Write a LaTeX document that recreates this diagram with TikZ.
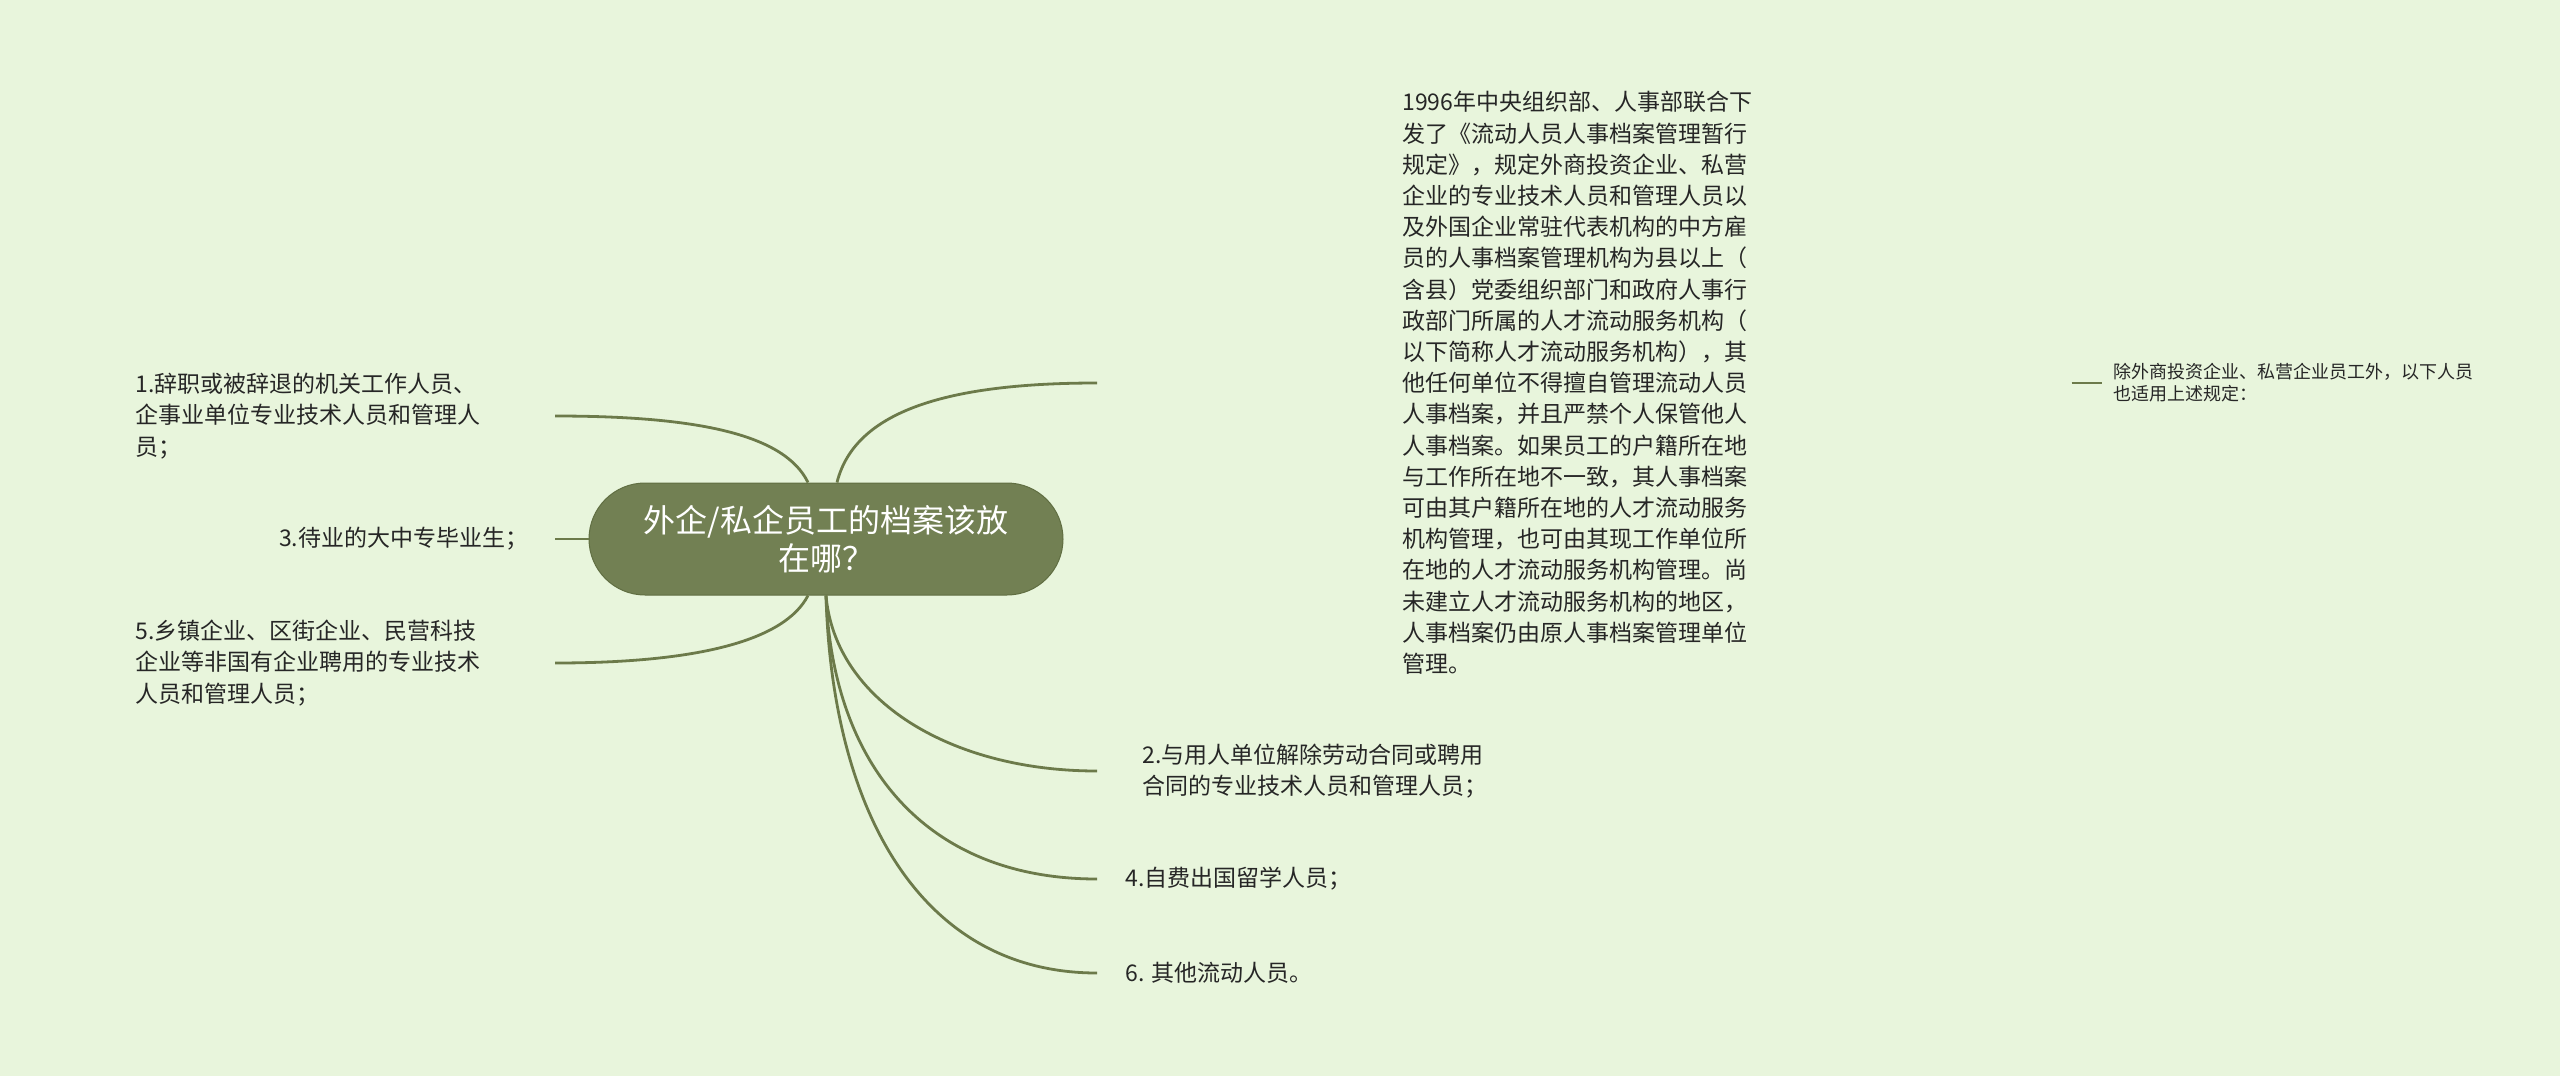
\documentclass[tikz,border=0pt]{standalone}
\usepackage{fontspec}
\newfontfamily\cjk{Noto Sans CJK SC}

\tikzset{every picture/.style={line width=0.75pt}}
\tikzset{
  branch/.style={color={rgb, 255:red, 108; green, 122; blue, 74 }, draw opacity=1, line width=1.4},
  hub/.style={fill={rgb, 255:red, 114; green, 128; blue, 83 }, draw={rgb, 255:red, 96; green, 110; blue, 66 }, line width=0.5, rounded corners=28pt, minimum width=237pt, minimum height=56pt, align=center, text=white, font=\cjk\fontsize{16pt}{19pt}\selectfont},
  leaf/.style={text={rgb, 255:red, 38; green, 38; blue, 38 }, inner ysep=0.75pt, align=left, font=\cjk\fontsize{11.5pt}{15.6pt}\selectfont},
  note/.style={text={rgb, 255:red, 38; green, 38; blue, 38 }, inner ysep=0.75pt, inner xsep=5.5pt, align=left, font=\cjk\fontsize{9pt}{11pt}\selectfont}
}

\begin{document}
\begin{tikzpicture}[x=0.5pt,y=0.5pt,yscale=-1,xscale=1]
\path [use as bounding box, fill={rgb, 255:red, 232; green, 245; blue, 220 }] (0,0) rectangle (2560,1076);

% Text Node
\draw (826,539) node [hub] (hub) {外企/私企员工的档案该放\\在哪？};

% Text Node
\draw (555,416) node [leaf, anchor=east, inner xsep=17pt, text width=192.5pt] (quit) {1.辞职或被辞退的机关工作人员、\\企事业单位专业技术人员和管理人\\员；};
% Text Node
\draw (555,539) node [leaf, anchor=east, inner xsep=13pt] (wait) {3.待业的大中专毕业生；};
% Text Node
\draw (555,663) node [leaf, anchor=east, inner xsep=17pt, text width=192.5pt] (rural) {5.乡镇企业、区街企业、民营科技\\企业等非国有企业聘用的专业技术\\人员和管理人员；};

% Text Node
\draw (1097,383) node [leaf, anchor=west, inner xsep=0pt, text width=182pt, minimum width=486.5pt] (rule) {1996年中央组织部、人事部联合下\\发了《流动人员人事档案管理暂行\\规定》，规定外商投资企业、私营\\企业的专业技术人员和管理人员以\\及外国企业常驻代表机构的中方雇\\员的人事档案管理机构为县以上（\\含县）党委组织部门和政府人事行\\政部门所属的人才流动服务机构（\\以下简称人才流动服务机构），其\\他任何单位不得擅自管理流动人员\\人事档案，并且严禁个人保管他人\\人事档案。如果员工的户籍所在地\\与工作所在地不一致，其人事档案\\可由其户籍所在地的人才流动服务\\机构管理，也可由其现工作单位所\\在地的人才流动服务机构管理。尚\\未建立人才流动服务机构的地区，\\人事档案仍由原人事档案管理单位\\管理。};
% Text Node
\draw (2102,383) node [note, anchor=west] (others) {除外商投资企业、私营企业员工外，以下人员\\也适用上述规定：};

% Text Node
\draw (1097,771) node [leaf, anchor=west, inner xsep=22.5pt] (contract) {2.与用人单位解除劳动合同或聘用\\合同的专业技术人员和管理人员；};
% Text Node
\draw (1097,879) node [leaf, anchor=west, inner xsep=14pt] (abroad) {4.自费出国留学人员；};
% Text Node
\draw (1097,973) node [leaf, anchor=west, inner xsep=14pt] (other) {6. 其他流动人员。};

%Curve Lines
\draw [branch] ([xshift=-9pt]hub.north) .. controls (785,435) and (700,416) .. (quit.east);
\draw [branch] (hub.west) -- (wait.east);
\draw [branch] ([xshift=-9pt]hub.south) .. controls (785,640) and (700,663) .. (rural.east);
%Curve Lines
\draw [branch] ([xshift=5.5pt]hub.north) .. controls (855,410) and (950,383) .. (rule.west);
\draw [branch] (rule.east) -- (others.west);
%Curve Lines
\draw [branch] (hub.south) .. controls (835,700) and (950,771) .. (contract.west);
\draw [branch] (hub.south) .. controls (833,770) and (930,879) .. (abroad.west);
\draw [branch] (hub.south) .. controls (832,810) and (920,973) .. (other.west);

\end{tikzpicture}
\end{document}
